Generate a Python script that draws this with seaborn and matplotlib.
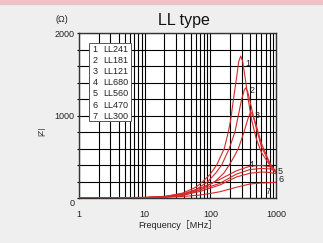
"""Impedance vs frequency chart for the LL type chip beads."""

import matplotlib

matplotlib.use("Agg")

import matplotlib.pyplot as plt
import matplotlib.ticker as mticker
import pandas as pd
import seaborn as sns
from matplotlib.patches import Rectangle

# values: frequency [MHz] -> |Z| [ohm]
part_names = ["LL241", "LL181", "LL121", "LL680", "LL560", "LL470", "LL300"]

freq_1 = [1, 10, 20, 38, 60, 77, 100, 125, 163, 188, 204, 230, 250, 270, 290, 310, 340, 380, 426, 500, 600, 800, 1000]
imp_1 = [0, 5, 15, 60, 130, 200, 290, 400, 600, 800, 945, 1250, 1450, 1650, 1720, 1660, 1450, 1180, 945, 720, 550, 400, 330]

freq_2 = [1, 10, 20, 40, 60, 92, 120, 149, 194, 237, 267, 300, 330, 345, 370, 400, 450, 500, 600, 800, 1000]
imp_2 = [0, 4, 12, 45, 100, 200, 300, 400, 600, 800, 1000, 1200, 1310, 1335, 1290, 1180, 1000, 850, 620, 420, 310]

freq_3 = [1, 10, 20, 40, 70, 118, 160, 194, 230, 267, 326, 370, 411, 440, 500, 600, 800, 1000]
imp_3 = [0, 3, 9, 35, 100, 200, 300, 400, 500, 600, 800, 950, 1045, 1010, 880, 660, 430, 300]

freq_4 = [1, 10, 20, 40, 70, 100, 140, 250, 400, 600, 800, 1000]
imp_4 = [0, 8, 20, 55, 120, 170, 226, 330, 385, 395, 380, 320]

freq_5 = [1, 10, 20, 40, 70, 100, 140, 250, 400, 600, 800, 1000]
imp_5 = [0, 6, 16, 45, 100, 140, 178, 290, 345, 358, 352, 325]

freq_6 = [1, 10, 20, 40, 70, 100, 140, 250, 400, 600, 800, 1000]
imp_6 = [0, 5, 13, 38, 80, 120, 158, 255, 300, 315, 310, 295]

freq_7 = [1, 10, 20, 40, 70, 100, 140, 250, 400, 600, 800, 1000]
imp_7 = [0, 3, 8, 20, 36, 55, 76, 130, 170, 182, 186, 190]

x_ticks = [1, 10, 100, 1000]
x_tick_labels = ["1", "10", "100", "1000"]
y_label_ticks = [1000, 2000]

# curve label anchor points (frequency, impedance)
label_freq = [374, 431, 514, 416, 1150, 1191, 755]
label_imp = [1636, 1309, 1006, 412, 327, 230, 73]

W, H = 323, 243
CURVE_COLOR = "#d42a2a"
TEXT_COLOR = "#222222"

sns.set_theme(style="white")
plt.rcParams["font.family"] = ["Liberation Sans", "Noto Sans CJK JP", "DejaVu Sans"]

fig = plt.figure(figsize=(W / 100, H / 100), dpi=100, facecolor="#efefef")
fig.patches.append(
    Rectangle((0, 1 - 4 / H), 1, 4 / H, transform=fig.transFigure, color="#efc3c6", zorder=0)
)
ax = fig.add_axes([79 / W, 1 - 198 / H, 197 / W, 165 / H])
ax.set_facecolor("white")

freqs = [freq_1, freq_2, freq_3, freq_4, freq_5, freq_6, freq_7]
imps = [imp_1, imp_2, imp_3, imp_4, imp_5, imp_6, imp_7]
for name, f, z in zip(part_names, freqs, imps):
    df = pd.DataFrame({"freq": f, "imp": z})
    sns.lineplot(data=df, x="freq", y="imp", ax=ax, color=CURVE_COLOR, lw=0.8,
                 estimator=None, sort=False, zorder=3)

ax.set_xscale("log")
ax.set_xlim(1, 1000)
ax.set_ylim(0, 2000)
ax.xaxis.set_major_locator(mticker.FixedLocator(x_ticks))
ax.xaxis.set_major_formatter(mticker.FixedFormatter(x_tick_labels))
ax.xaxis.set_minor_locator(mticker.LogLocator(base=10, subs=range(2, 10)))
ax.xaxis.set_minor_formatter(mticker.NullFormatter())
ax.yaxis.set_major_locator(mticker.MultipleLocator(200))
ax.yaxis.set_major_formatter(
    mticker.FuncFormatter(lambda v, _: f"{int(v)}" if int(v) in y_label_ticks else "")
)
ax.grid(which="both", color="black", lw=0.8, zorder=1)
ax.tick_params(axis="x", which="both", length=0, pad=8.3, labelsize=6.5, labelcolor=TEXT_COLOR)
ax.tick_params(axis="y", length=1.6, width=0.8, color="black", direction="out",
               pad=1.8, labelsize=6.5, labelcolor=TEXT_COLOR, left=True)
for spine in ax.spines.values():
    spine.set_color("#333333")
    spine.set_linewidth(1.0)
ax.set_xlabel("")
ax.set_ylabel("")
ax.annotate("0", xy=(0, 0), xycoords="axes fraction", xytext=(-3.3, -4.3),
            textcoords="offset points", ha="right", va="center", fontsize=6.5, color=TEXT_COLOR)

# legend-like key box
ax.add_patch(Rectangle((0.051, 0.467), 0.213, 0.472, transform=ax.transAxes,
                       facecolor="white", edgecolor="#555555", lw=0.7, zorder=4))
for i, name in enumerate(part_names):
    y = 0.903 - i * 0.0679
    ax.text(0.068, y, str(i + 1), transform=ax.transAxes, fontsize=6.5,
            va="center", color=TEXT_COLOR, zorder=5)
    ax.text(0.122, y, name, transform=ax.transAxes, fontsize=6.5,
            va="center", color=TEXT_COLOR, zorder=5)

for i, (lf, lz) in enumerate(zip(label_freq, label_imp)):
    ax.text(lf, lz, str(i + 1), fontsize=6.5, ha="center", va="center",
            color=TEXT_COLOR, clip_on=False, zorder=5)

fig.text(184 / W, 1 - 20.7 / H, "LL type", fontsize=11.5, ha="center", va="center", color="#111111")
fig.text(61.5 / W, 1 - 19.3 / H, "(Ω)", fontsize=6.5, ha="center", va="center", color=TEXT_COLOR)
fig.text(42 / W, 1 - 131 / H, "|Z|", fontsize=6, rotation=90, ha="center", va="center", color=TEXT_COLOR)
fig.text(177.5 / W, 1 - 225 / H, "Frequency［MHz］", fontsize=6.5, ha="center", va="center",
         color=TEXT_COLOR)

fig.savefig("out.png", dpi=100, facecolor=fig.get_facecolor())
